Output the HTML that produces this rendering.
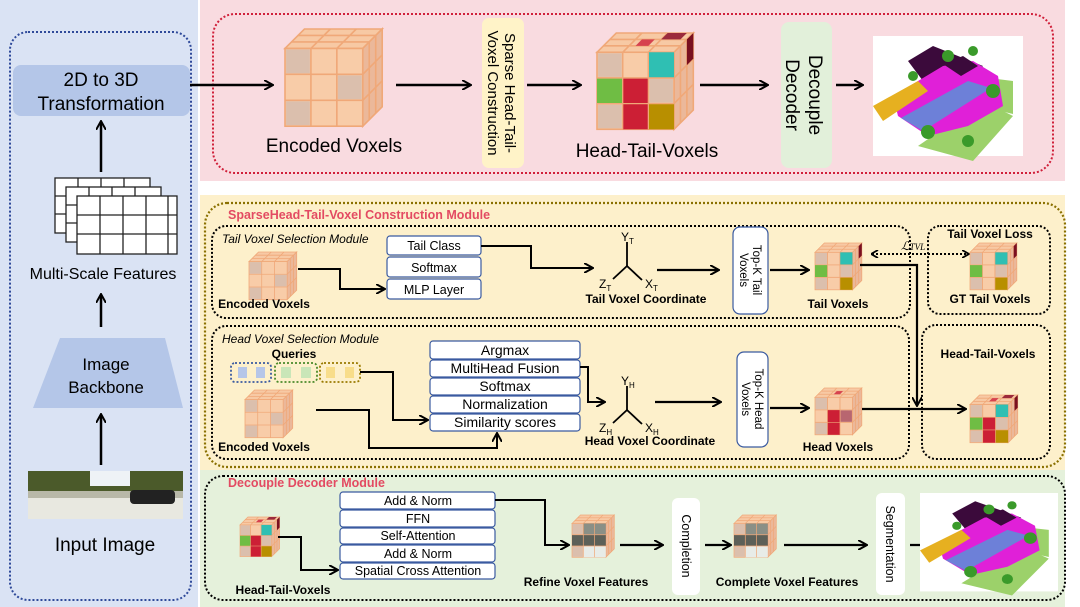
<!DOCTYPE html>
<html><head><meta charset="utf-8"><style>
html,body{margin:0;padding:0;background:#fff}
svg{display:block;font-family:"Liberation Sans",sans-serif}
</style></head><body>
<svg width="1080" height="607" viewBox="0 0 1080 607" xmlns="http://www.w3.org/2000/svg">
<defs>
<marker id="ah" markerWidth="10" markerHeight="10" refX="8" refY="5" orient="auto" markerUnits="userSpaceOnUse">
<path d="M0,0 L9,5 L0,10" fill="none" stroke="#000" stroke-width="2"/></marker>
<marker id="ahs" markerWidth="8" markerHeight="8" refX="6" refY="4" orient="auto" markerUnits="userSpaceOnUse">
<path d="M0,0 L7,4 L0,8" fill="none" stroke="#000" stroke-width="1.8"/></marker>
<marker id="ahb" markerWidth="8" markerHeight="8" refX="1" refY="4" orient="auto" markerUnits="userSpaceOnUse">
<path d="M7,0 L0,4 L7,8" fill="none" stroke="#000" stroke-width="1.8"/></marker>
<g id="cube">
<polygon points="0,18 18,0 90,0 72,18" fill="#f7c9a4" stroke="#f0a878" stroke-width="1.5"/>
<polygon points="72,18 90,0 90,72 72,90" fill="#ebb89a" stroke="#f0a878" stroke-width="1.5"/>
<rect x="0" y="18" width="72" height="72" fill="#f8cca8" stroke="#f0a878" stroke-width="1.5"/>
<path d="M24,18V90M48,18V90M0,42H72M0,66H72M6,12H78M12,6H84M24,18L42,0M48,18L66,0M78,12V84M84,6V78M72,42L90,24M72,66L90,48" stroke="#f0a878" stroke-width="1.5" fill="none"/>
<rect x="1" y="19" width="22" height="22" fill="#c8b6b0" opacity="0.6"/>
<rect x="49" y="43" width="22" height="22" fill="#c8b6b0" opacity="0.6"/>
<rect x="1" y="67" width="22" height="22" fill="#c8b6b0" opacity="0.6"/>
</g>
<g id="ccube">
<use href="#cube"/>
<rect x="48" y="18" width="24" height="24" fill="#2fbfb3"/>
<rect x="0" y="42" width="24" height="24" fill="#6fbd44"/>
<rect x="24" y="42" width="24" height="24" fill="#cc1f35"/>
<rect x="24" y="66" width="24" height="24" fill="#cc1f35"/>
<rect x="48" y="66" width="24" height="24" fill="#b88f00"/>
<polygon points="66,0 84,0 78,6 60,6" fill="#9c2a3c"/>
<polygon points="84,6 90,0 90,24 84,30" fill="#7a1020"/>
<polygon points="42,6 54,6 48,12 36,12" fill="#d6424f"/>
<path d="M24,18V90M48,18V90M0,42H72M0,66H72" stroke="#f0a878" stroke-width="1.2"/>
</g>
<g id="tcube">
<use href="#cube"/>
<rect x="48" y="18" width="24" height="24" fill="#2fbfb3"/>
<rect x="0" y="42" width="24" height="24" fill="#6fbd44"/>
<rect x="48" y="66" width="24" height="24" fill="#b88f00"/>
<polygon points="84,6 90,0 90,24 84,30" fill="#7a1020"/>
<path d="M24,18V90M48,18V90M0,42H72M0,66H72" stroke="#f0a878" stroke-width="1.2"/>
</g>
<g id="hcube">
<use href="#cube"/>
<rect x="24" y="42" width="24" height="24" fill="#cc1f35"/>
<rect x="24" y="66" width="24" height="24" fill="#cc1f35"/>
<polygon points="42,6 54,6 48,12 36,12" fill="#d6424f"/>
<rect x="49" y="43" width="22" height="22" fill="#b86670"/>
<path d="M24,18V90M48,18V90M0,42H72M0,66H72" stroke="#f0a878" stroke-width="1.2"/>
</g>
<g id="fcube">
<use href="#cube"/>
<rect x="24" y="18" width="48" height="24" fill="#8a8f86"/>
<rect x="0" y="42" width="72" height="24" fill="#5d6058"/>
<rect x="24" y="66" width="48" height="24" fill="#e8ece8"/>
<path d="M24,18V90M48,18V90M0,42H72M0,66H72" stroke="#f0a878" stroke-width="1.5"/>
</g>
<g id="scene">
<rect x="0" y="0" width="150" height="120" fill="#fff"/>
<polygon points="45,110 100,125 140,80 110,65" fill="#9cd16a"/>
<polygon points="100,40 140,45 140,78 115,72" fill="#9cd16a"/>
<polygon points="35,25 60,10 110,30 80,55 50,45" fill="#3b0a3b"/>
<polygon points="20,60 70,30 100,25 125,40 130,70 95,90 55,100 25,80" fill="#e020d8"/>
<polygon points="28,82 95,45 118,52 50,95" fill="#6d80d8"/>
<polygon points="0,70 45,45 55,55 10,85" fill="#e6b020"/>
<polygon points="70,28 90,20 105,30 88,40" fill="#3b0a3b"/>
<circle cx="55" cy="96" r="7" fill="#3a9a2a"/><circle cx="95" cy="105" r="6" fill="#3a9a2a"/>
<circle cx="75" cy="20" r="6" fill="#3a9a2a"/><circle cx="120" cy="55" r="7" fill="#3a9a2a"/>
<circle cx="40" cy="40" r="5" fill="#3a9a2a"/><circle cx="100" cy="15" r="5" fill="#3a9a2a"/>
</g>
</defs>

<rect x="0" y="0" width="198" height="607" fill="#dae3f4"/>
<rect x="200" y="0" width="865" height="181" fill="#f9dbe0"/>
<rect x="200" y="195" width="865" height="275" fill="#fdf0cb"/>
<rect x="200" y="470" width="865" height="137" fill="#e5f1db"/>

<rect x="10" y="32" width="181" height="568" rx="18" fill="none" stroke="#2f4a9a" stroke-width="2" stroke-dasharray="2,2"/>
<rect x="13" y="65" width="177" height="51" rx="8" fill="#b4c6e8"/>
<text x="101" y="86" font-size="19" text-anchor="middle">2D to 3D</text>
<text x="101" y="110" font-size="19" text-anchor="middle">Transformation</text>
<line x1="101" y1="172" x2="101" y2="122" stroke="#000" stroke-width="2.5" marker-end="url(#ah)"/>
<g stroke="#222" stroke-width="1.3" fill="#fff">
<rect x="55" y="178" width="95" height="55"/><path d="M55,196H150M55,214H150M78,178V233M101,178V233M124,178V233" fill="none"/>
<rect x="66" y="187" width="95" height="55"/><path d="M66,205H161M66,223H161M89,187V242M112,187V242M135,187V242" fill="none"/>
<rect x="77" y="196" width="100" height="58"/><path d="M77,215H177M77,234H177M100,196V254M123,196V254M146,196V254M168,196V254" fill="none"/>
</g>
<text x="103" y="279" font-size="16" text-anchor="middle">Multi-Scale Features</text>
<line x1="101" y1="327" x2="101" y2="295" stroke="#000" stroke-width="2.5" marker-end="url(#ah)"/>
<polygon points="60,338 165,338 183,408 33,408" fill="#b4c6e8"/>
<text x="106" y="370" font-size="17" text-anchor="middle">Image</text>
<text x="106" y="393" font-size="17" text-anchor="middle">Backbone</text>
<line x1="101" y1="465" x2="101" y2="415" stroke="#000" stroke-width="2.5" marker-end="url(#ah)"/>
<rect x="28" y="471" width="155" height="48" fill="#b8b8a8"/>
<rect x="28" y="471" width="155" height="20" fill="#4b5a2a"/>
<rect x="90" y="471" width="40" height="15" fill="#eef2f6"/>
<rect x="28" y="498" width="155" height="21" fill="#e8e8e0"/>
<rect x="130" y="490" width="45" height="14" rx="4" fill="#222"/>
<text x="105" y="551" font-size="19" text-anchor="middle">Input Image</text>

<rect x="213" y="14" width="840" height="159" rx="22" fill="none" stroke="#d0203a" stroke-width="2" stroke-dasharray="2,2"/>
<line x1="190" y1="85" x2="272" y2="85" stroke="#000" stroke-width="2.5" marker-end="url(#ah)"/>
<use href="#cube" transform="translate(285,29) scale(1.08)"/>
<text x="334" y="152" font-size="19" text-anchor="middle">Encoded Voxels</text>
<line x1="396" y1="85" x2="470" y2="85" stroke="#000" stroke-width="2.5" marker-end="url(#ah)"/>
<rect x="482" y="18" width="42" height="150" rx="7" fill="#fff3c8"/>
<text transform="translate(505,93) rotate(90)" font-size="15" text-anchor="middle">Sparse Head-Tail-</text>
<text transform="translate(488,93) rotate(90)" font-size="15" text-anchor="middle">Voxel Construction</text>
<line x1="527" y1="85" x2="580" y2="85" stroke="#000" stroke-width="2.5" marker-end="url(#ah)"/>
<use href="#ccube" transform="translate(597,33) scale(1.07)"/>
<text x="647" y="157" font-size="19" text-anchor="middle">Head-Tail-Voxels</text>
<line x1="700" y1="85" x2="767" y2="85" stroke="#000" stroke-width="2.5" marker-end="url(#ah)"/>
<rect x="781" y="22" width="51" height="146" rx="8" fill="#e2f0da"/>
<text transform="translate(809,95) rotate(90)" font-size="19" text-anchor="middle">Decouple</text>
<text transform="translate(786,95) rotate(90)" font-size="19" text-anchor="middle">Decoder</text>
<line x1="836" y1="85" x2="862" y2="85" stroke="#000" stroke-width="2.5" marker-end="url(#ah)"/>
<use href="#scene" transform="translate(873,36)"/>

<rect x="205" y="203" width="860" height="264" rx="22" fill="none" stroke="#8a7000" stroke-width="2.2" stroke-dasharray="2,2"/>
<text x="228" y="219" font-size="12.5" font-weight="bold" fill="#e34a62">SparseHead-Tail-Voxel Construction Module</text>
<rect x="212" y="226" width="698" height="92" rx="14" fill="none" stroke="#000" stroke-width="2" stroke-dasharray="2,2"/>
<text x="222" y="243" font-size="12" font-style="italic">Tail Voxel Selection Module</text>
<use href="#cube" transform="translate(249,252) scale(0.53)"/>
<text x="264" y="308" font-size="12" font-weight="bold" text-anchor="middle">Encoded Voxels</text>
<g fill="#fff" stroke="#3a5aa0" stroke-width="1.2">
<rect x="387" y="236" width="94" height="19" rx="3"/>
<rect x="387" y="257" width="94" height="20" rx="3"/>
<rect x="387" y="279" width="94" height="20" rx="3"/>
</g>
<g font-size="12.5" text-anchor="middle">
<text x="434" y="250">Tail Class</text><text x="434" y="272">Softmax</text><text x="434" y="294">MLP Layer</text>
</g>
<polyline points="298,269 340,269 340,289 384,289" fill="none" stroke="#000" stroke-width="2" marker-end="url(#ah)"/>
<polyline points="481,246 531,246 531,268 592,268" fill="none" stroke="#000" stroke-width="2" marker-end="url(#ah)"/>
<g stroke="#000" stroke-width="1.8"><line x1="627" y1="266" x2="627" y2="242"/><line x1="627" y1="266" x2="613" y2="279"/><line x1="627" y1="266" x2="642" y2="280"/></g>
<text x="621" y="241" font-size="12">Y<tspan font-size="8" dy="3">T</tspan></text>
<text x="599" y="288" font-size="12">Z<tspan font-size="8" dy="3">T</tspan></text>
<text x="645" y="288" font-size="12">X<tspan font-size="8" dy="3">T</tspan></text>
<text x="646" y="303" font-size="12" font-weight="bold" text-anchor="middle">Tail Voxel Coordinate</text>
<line x1="657" y1="270" x2="718" y2="270" stroke="#000" stroke-width="2.2" marker-end="url(#ah)"/>
<rect x="733" y="227" width="35" height="87" rx="7" fill="#fff" stroke="#3a5aa0" stroke-width="1.2"/>
<text transform="translate(753,270) rotate(90)" font-size="11.5" text-anchor="middle">Top-K Tail</text>
<text transform="translate(740,270) rotate(90)" font-size="11.5" text-anchor="middle">Voxels</text>
<line x1="770" y1="270" x2="808" y2="270" stroke="#000" stroke-width="2.2" marker-end="url(#ah)"/>
<use href="#tcube" transform="translate(815,243) scale(0.52)"/>
<text x="838" y="308" font-size="12" font-weight="bold" text-anchor="middle">Tail Voxels</text>
<line x1="872" y1="254" x2="968" y2="254" stroke="#000" stroke-width="2" stroke-dasharray="2,2" marker-start="url(#ahb)" marker-end="url(#ahs)"/>
<text x="901" y="250" font-size="12" font-style="italic" font-family="Liberation Serif,serif">ℒ<tspan font-size="9">TVL</tspan></text>
<rect x="928" y="226" width="122" height="88" rx="12" fill="none" stroke="#000" stroke-width="2" stroke-dasharray="2,2"/>
<text x="990" y="238" font-size="12" font-weight="bold" text-anchor="middle">Tail Voxel Loss</text>
<use href="#tcube" transform="translate(970,243) scale(0.52)"/>
<text x="990" y="303" font-size="12" font-weight="bold" text-anchor="middle">GT Tail Voxels</text>
<rect x="212" y="326" width="697" height="133" rx="14" fill="none" stroke="#000" stroke-width="2" stroke-dasharray="2,2"/>
<text x="222" y="343" font-size="12" font-style="italic">Head Voxel Selection Module</text>
<text x="294" y="358" font-size="12" font-weight="bold" text-anchor="middle">Queries</text>
<rect x="231" y="363" width="40" height="19" rx="4" fill="none" stroke="#3a5aa0" stroke-width="1.8" stroke-dasharray="2,2"/>
<rect x="238" y="367" width="9" height="11" fill="#b6c6e8"/><rect x="256" y="367" width="9" height="11" fill="#b6c6e8"/>
<rect x="275" y="363" width="42" height="19" rx="4" fill="none" stroke="#4a8a2a" stroke-width="1.8" stroke-dasharray="2,2"/>
<rect x="281" y="367" width="10" height="11" fill="#c9e6b8"/><rect x="301" y="367" width="10" height="11" fill="#c9e6b8"/>
<rect x="320" y="363" width="40" height="19" rx="4" fill="none" stroke="#9a7a00" stroke-width="1.8" stroke-dasharray="2,2"/>
<rect x="326" y="367" width="9" height="11" fill="#f8dd8a"/><rect x="345" y="367" width="9" height="11" fill="#f8dd8a"/>
<use href="#cube" transform="translate(245,390) scale(0.53)"/>
<text x="264" y="451" font-size="12" font-weight="bold" text-anchor="middle">Encoded Voxels</text>
<g fill="#fff" stroke="#3a5aa0" stroke-width="1.2">
<rect x="430" y="341" width="150" height="18" rx="3"/>
<rect x="430" y="360" width="150" height="17" rx="3"/>
<rect x="430" y="378" width="150" height="17" rx="3"/>
<rect x="430" y="396" width="150" height="17" rx="3"/>
<rect x="430" y="414" width="150" height="17" rx="3"/>
</g>
<g font-size="14" text-anchor="middle">
<text x="505" y="355">Argmax</text><text x="505" y="373">MultiHead Fusion</text><text x="505" y="391">Softmax</text><text x="505" y="409">Normalization</text><text x="505" y="427">Similarity scores</text>
</g>
<polyline points="360,372 393,372 393,420 427,420" fill="none" stroke="#000" stroke-width="2" marker-end="url(#ah)"/>
<polyline points="316,410 369,410 369,448 497,448 497,434" fill="none" stroke="#000" stroke-width="2" marker-end="url(#ah)"/>
<polyline points="580,367 588,367 588,402 604,402" fill="none" stroke="#000" stroke-width="2" marker-end="url(#ah)"/>
<g stroke="#000" stroke-width="1.8"><line x1="627" y1="410" x2="627" y2="386"/><line x1="627" y1="410" x2="613" y2="423"/><line x1="627" y1="410" x2="642" y2="424"/></g>
<text x="621" y="385" font-size="12">Y<tspan font-size="8" dy="3">H</tspan></text>
<text x="599" y="432" font-size="12">Z<tspan font-size="8" dy="3">H</tspan></text>
<text x="645" y="432" font-size="12">X<tspan font-size="8" dy="3">H</tspan></text>
<text x="650" y="445" font-size="12" font-weight="bold" text-anchor="middle">Head Voxel Coordinate</text>
<line x1="655" y1="402" x2="720" y2="402" stroke="#000" stroke-width="2.2" marker-end="url(#ah)"/>
<rect x="737" y="352" width="31" height="95" rx="7" fill="#fff" stroke="#3a5aa0" stroke-width="1.2"/>
<text transform="translate(755,399) rotate(90)" font-size="11.5" text-anchor="middle">Top-K Head</text>
<text transform="translate(742,399) rotate(90)" font-size="11.5" text-anchor="middle">Voxels</text>
<line x1="770" y1="408" x2="808" y2="408" stroke="#000" stroke-width="2.2" marker-end="url(#ah)"/>
<use href="#hcube" transform="translate(815,388) scale(0.52)"/>
<text x="838" y="451" font-size="12" font-weight="bold" text-anchor="middle">Head Voxels</text>
<polyline points="860,265 917,265 917,405" fill="none" stroke="#000" stroke-width="2.2" marker-end="url(#ah)"/>
<line x1="862" y1="409" x2="965" y2="409" stroke="#000" stroke-width="2.2" marker-end="url(#ah)"/>
<rect x="922" y="325" width="128" height="134" rx="14" fill="none" stroke="#000" stroke-width="2" stroke-dasharray="2,2"/>
<text x="988" y="358" font-size="12" font-weight="bold" text-anchor="middle">Head-Tail-Voxels</text>
<use href="#ccube" transform="translate(970,395) scale(0.53)"/>

<rect x="205" y="476" width="860" height="124" rx="18" fill="none" stroke="#000" stroke-width="2" stroke-dasharray="2,2"/>
<text x="228" y="487" font-size="12.5" font-weight="bold" fill="#e34a62">Decouple Decoder Module</text>
<use href="#ccube" transform="translate(240,517) scale(0.44)"/>
<text x="283" y="594" font-size="12" font-weight="bold" text-anchor="middle">Head-Tail-Voxels</text>
<g fill="#fff" stroke="#3a5aa0" stroke-width="1.2">
<rect x="340" y="492" width="155" height="17" rx="3"/>
<rect x="340" y="510" width="155" height="17" rx="3"/>
<rect x="340" y="528" width="155" height="16" rx="3"/>
<rect x="340" y="545" width="155" height="17" rx="3"/>
<rect x="340" y="563" width="155" height="16" rx="3"/>
</g>
<g font-size="12.5" text-anchor="middle">
<text x="418" y="505">Add &amp; Norm</text><text x="418" y="523">FFN</text><text x="418" y="540">Self-Attention</text><text x="418" y="558">Add &amp; Norm</text><text x="418" y="575">Spatial Cross Attention</text>
</g>
<polyline points="278,537 301,537 301,570 337,570" fill="none" stroke="#000" stroke-width="2" marker-end="url(#ah)"/>
<polyline points="495,500 545,500 545,545 568,545" fill="none" stroke="#000" stroke-width="2" marker-end="url(#ah)"/>
<use href="#fcube" transform="translate(572,515) scale(0.47)"/>
<text x="586" y="586" font-size="12" font-weight="bold" text-anchor="middle">Refine Voxel Features</text>
<line x1="620" y1="545" x2="662" y2="545" stroke="#000" stroke-width="2.2" marker-end="url(#ah)"/>
<rect x="672" y="498" width="28" height="97" rx="6" fill="#fff"/>
<text transform="translate(682,546) rotate(90)" font-size="12.5" text-anchor="middle">Completion</text>
<line x1="705" y1="545" x2="730" y2="545" stroke="#000" stroke-width="2.2" marker-end="url(#ah)"/>
<use href="#fcube" transform="translate(734,515) scale(0.47)"/>
<text x="787" y="586" font-size="12" font-weight="bold" text-anchor="middle">Complete Voxel Features</text>
<line x1="784" y1="545" x2="866" y2="545" stroke="#000" stroke-width="2.2" marker-end="url(#ah)"/>
<rect x="876" y="493" width="29" height="102" rx="6" fill="#fff"/>
<text transform="translate(886,544) rotate(90)" font-size="12.5" text-anchor="middle">Segmentation</text>
<line x1="910" y1="545" x2="938" y2="545" stroke="#000" stroke-width="2.2" marker-end="url(#ah)"/>
<use href="#scene" transform="translate(920,493) scale(0.92,0.82)"/>
</svg>
</body></html>
